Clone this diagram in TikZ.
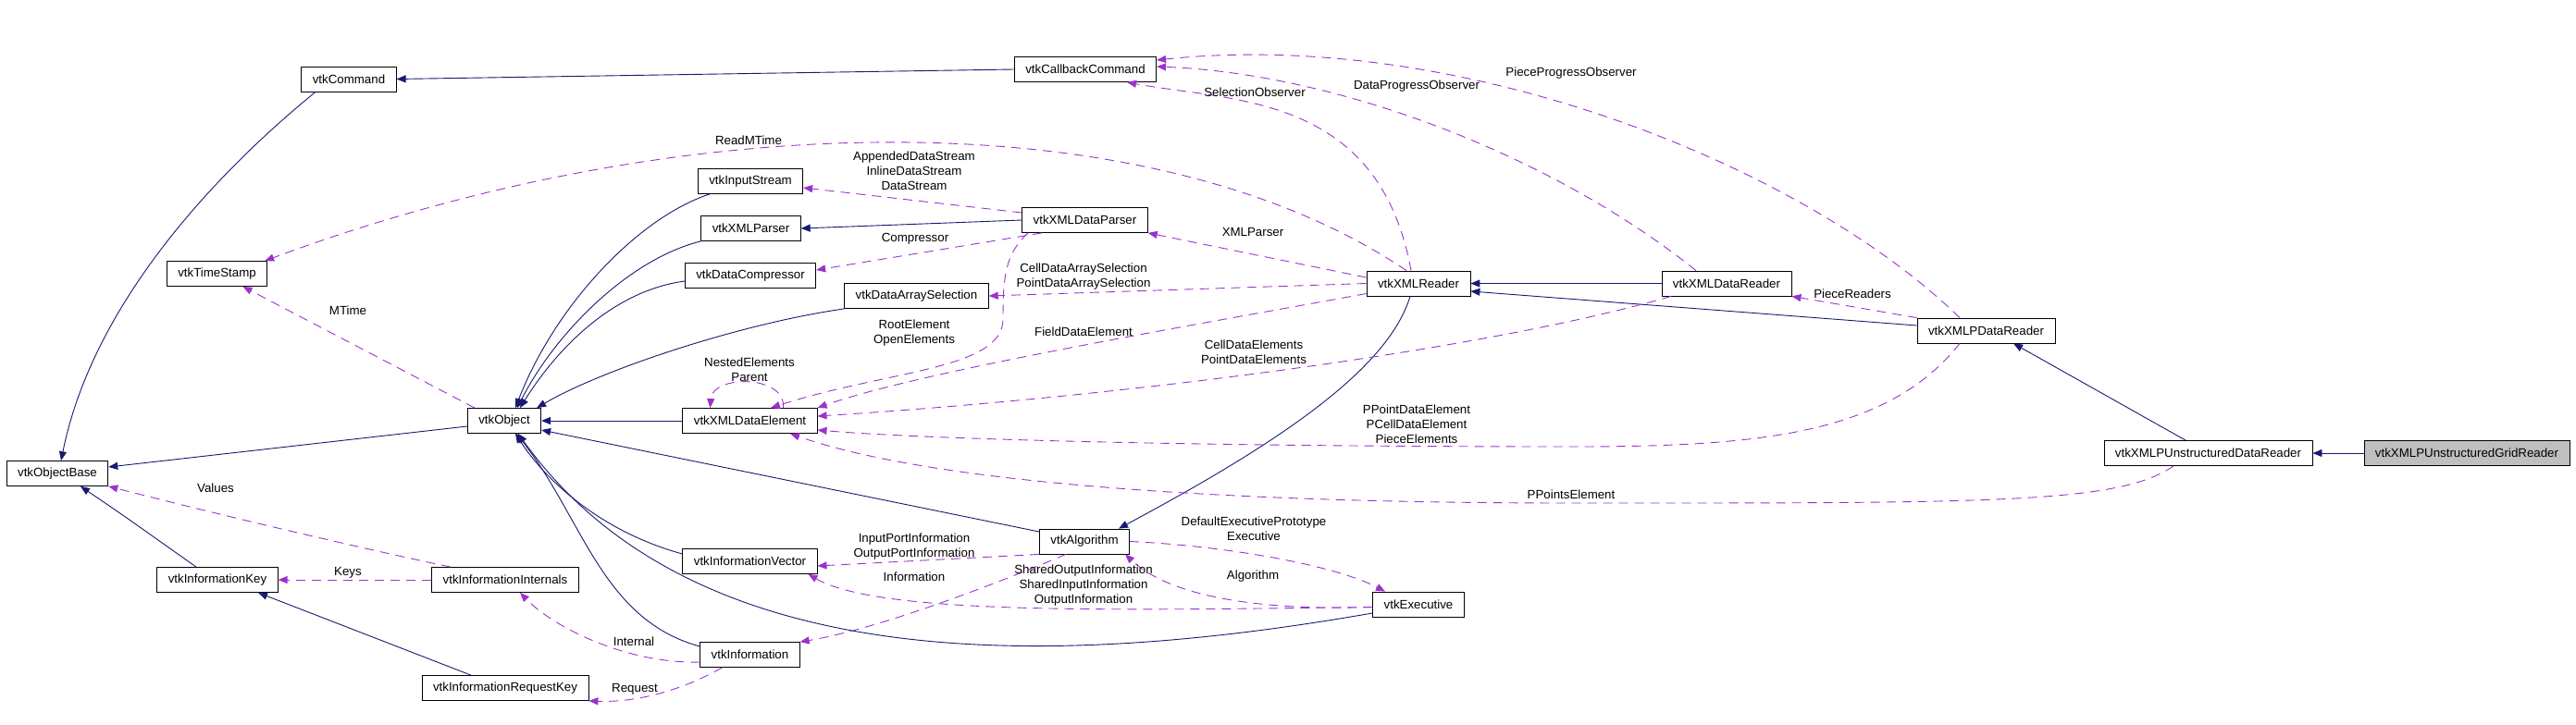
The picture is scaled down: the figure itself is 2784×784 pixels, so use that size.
\documentclass[tikz,border=0pt]{standalone}
\usepackage{fontspec}
\setmainfont{Liberation Sans}
\usetikzlibrary{arrows.meta}

\definecolor{inhblue}{HTML}{191970}
\definecolor{usepurple}{HTML}{9A32CD}
\definecolor{selgray}{HTML}{BFBFBF}

\begin{document}
\begin{tikzpicture}[
x=1pt, y=-1pt,
cls/.style={draw=black, fill=white, line width=0.8pt, font=\fontsize{13.3}{16}\selectfont, inner xsep=12pt, inner ysep=0pt, minimum height=27pt},
inh/.style={-{Triangle[length=10pt,width=8pt]}, draw=inhblue, line width=0.9pt},
member/.style={-{Triangle[length=10pt,width=8pt]}, draw=usepurple, dash pattern=on 10pt off 7pt, line width=0.9pt},
edgelabel/.style={font=\fontsize{13.3}{16}\selectfont, align=center, inner sep=0pt} ]

\useasboundingbox (0,0) rectangle (2784,784);

\node[cls](cmd) at (377,85.5) {vtkCommand};

\node[cls](cbcmd) at (1173,75) {vtkCallbackCommand};

\node[cls](tstamp) at (234.5,296) {vtkTimeStamp};

\node[cls](objbase) at (62,512) {vtkObjectBase};

\node[cls](obj) at (545,455) {vtkObject};

\node[cls](infokey) at (235,627) {vtkInformationKey};

\node[cls](infoint) at (546,627) {vtkInformationInternals};

\node[cls](reqkey) at (546,744) {vtkInformationRequestKey};

\node[cls](instream) at (811,196) {vtkInputStream};

\node[cls](xmlparser) at (811.5,247) {vtkXMLParser};

\node[cls](compressor) at (811,298) {vtkDataCompressor};

\node[cls](dataparser) at (1172.5,238) {vtkXMLDataParser};

\node[cls](arraysel) at (990.5,320) {vtkDataArraySelection};

\node[cls](dataelem) at (810.5,455) {vtkXMLDataElement};

\node[cls](infovec) at (810.5,607) {vtkInformationVector};

\node[cls](info) at (810.5,708) {vtkInformation};

\node[cls](algo) at (1172,585.5) {vtkAlgorithm};

\node[cls](exec) at (1533,653.5) {vtkExecutive};

\node[cls](reader) at (1533,306.5) {vtkXMLReader};

\node[cls](datareader) at (1866,306.5) {vtkXMLDataReader};

\node[cls](preader) at (2146.5,357.5) {vtkXMLPDataReader};

\node[cls](pudreader) at (2386.5,490) {vtkXMLPUnstructuredDataReader};

\node[cls, fill=selgray](pugreader) at (2666,490) {vtkXMLPUnstructuredGridReader};

% base classes
\draw[inh] (cbcmd.west) -- (cmd.east);

\draw[inh] ([xshift=-36pt]cmd.south) .. controls (230,190) and (100,330) .. ([xshift=4pt]objbase.north);

\draw[inh] ([yshift=-6pt]obj.west) -- ([yshift=7pt]objbase.east);

\draw[inh] ([xshift=-23pt]infokey.north) .. controls (130,555) .. ([xshift=25pt]objbase.south);

\draw[inh] ([xshift=-37pt]reqkey.north) -- ([xshift=44pt]infokey.south);

\draw[inh] ([xshift=-44pt]instream.south) .. controls (690,235) and (600,330) .. ([xshift=12pt]obj.north);

\draw[inh] (xmlparser.south west) .. controls (680,280) and (600,360) .. ([xshift=14pt]obj.north);

\draw[inh] ([yshift=-6pt]compressor.west) .. controls (660,315) and (600,380) .. ([xshift=17pt]obj.north);

\draw[inh] (arraysel.south west) .. controls (800,350) and (650,400) .. ([xshift=-5pt]obj.north east);

\draw[inh] (dataelem.west) -- (obj.east);

\draw[inh] ([yshift=10.5pt]algo.west) -- ([yshift=-10pt]obj.east);

\draw[inh] ([yshift=8pt]infovec.west) .. controls (650,575) and (590,520) .. ([xshift=12pt]obj.south);

\draw[inh] ([yshift=9pt]info.west) .. controls (650,670) and (630,560) .. ([xshift=13pt]obj.south);

\draw[inh] ([yshift=-9.5pt]exec.west) .. controls (1100,730) and (740,720) .. ([xshift=15pt]obj.south);

\draw[inh] ([xshift=-9pt]reader.south) .. controls (1500,400) and (1380,480) .. ([xshift=37pt]algo.north);

\draw[inh] (dataparser.west) -- (xmlparser.east);

\draw[inh] (datareader.west) -- (reader.east);

\draw[inh] ([yshift=5.5pt]preader.west) -- ([yshift=-8.5pt]reader.east);

\draw[inh] ([xshift=-24.5pt]pudreader.north) -- ([xshift=29.5pt]preader.south);

\draw[inh] (pugreader.west) -- (pudreader.east);

% members
\draw[member] ([xshift=-13pt]reader.north) .. controls (1250,110) and (750,110) .. ([xshift=-3pt]tstamp.north east);

\draw[member] ([xshift=-8pt]reader.north) .. controls (1490,100) and (1330,110) .. ([xshift=45pt]cbcmd.south);

\draw[member] ([xshift=-33pt]datareader.north) .. controls (1680,170) and (1450,80) .. ([yshift=3pt]cbcmd.east);

\draw[member] ([xshift=-28.5pt]preader.north) .. controls (1950,180) and (1580,30) .. ([yshift=10pt]cbcmd.east);

\draw[member] ([yshift=8pt]dataparser.west) -- ([yshift=-7pt]instream.east);

\draw[member] ([xshift=-46.5pt]dataparser.south) -- ([yshift=6pt]compressor.east);

\draw[member] ([xshift=-61.5pt]dataparser.south) .. controls (1086,275) and (1084,300) .. (1084,345) .. controls (1084,400) and (960,400) .. ([xshift=22.5pt]dataelem.north);

\draw[member] ([yshift=6.5pt]reader.west) -- (dataparser.south east);

\draw[member] (reader.west) -- (arraysel.east);

\draw[member] ([yshift=-11pt]reader.west) .. controls (1300,350) and (1000,400) .. ([yshift=14pt]dataelem.east);

\draw[member] ([xshift=36pt]dataelem.north) .. controls (850,405) and (770,405) .. ([xshift=-43pt]dataelem.north);

\draw[member] ([xshift=-60pt]datareader.south) .. controls (1600,380) and (1200,430) .. ([yshift=5pt]dataelem.east);

\draw[member] ([xshift=-28.5pt]preader.south) .. controls (2040,470) and (1900,483) .. (1700,483) .. controls (1300,483) and (1000,475) .. ([yshift=-10pt]dataelem.east);

\draw[member] ([xshift=-37.5pt]pudreader.south) .. controls (2290,545) and (2150,544) .. (1700,544) .. controls (1300,544) and (1000,520) .. ([xshift=43.5pt]dataelem.south);

\draw[member] (algo.east) .. controls (1320,590) and (1440,610) .. ([xshift=-36pt]exec.north);

\draw[member] ([yshift=-3pt]exec.west) .. controls (1380,660) and (1270,650) .. ([xshift=44pt]algo.south);

\draw[member] ([yshift=-3pt]exec.west) .. controls (1200,660) and (950,665) .. ([xshift=-10pt]infovec.south east);

\draw[member] (algo.south west) -- ([yshift=-5pt]infovec.east);

\draw[member] ([xshift=-20pt]algo.south) .. controls (1080,630) and (950,680) .. (info.north east);

\draw[member] ([xshift=-59pt]infoint.north) .. controls (400,595) and (250,560) .. (objbase.south east);

\draw[member] (infoint.west) -- (infokey.east);

\draw[member] ([yshift=-8pt]info.west) .. controls (680,718) and (600,680) .. ([xshift=16pt]infoint.south);

\draw[member] ([xshift=-30pt]info.south) .. controls (740,745) and (690,760) .. (reqkey.south east);

\draw[member] ([xshift=-32pt]obj.north) -- ([xshift=28pt]tstamp.south);

\draw[member] (preader.north west) -- (datareader.south east);

% labels
\node[edgelabel](lreadmtime) at (809,152) {ReadMTime};

\node[edgelabel](lstream) at (988,185) {AppendedDataStream\\InlineDataStream\\DataStream};

\node[edgelabel](lselobs) at (1356,100) {SelectionObserver};

\node[edgelabel](ldataobs) at (1531,93) {DataProgressObserver};

\node[edgelabel](lpieceobs) at (1698,79) {PieceProgressObserver};

\node[edgelabel](lxmlparser) at (1354,251) {XMLParser};

\node[edgelabel](lcompressor) at (989,258) {Compressor};

\node[edgelabel](lselection) at (1171,299.5) {CellDataArraySelection\\PointDataArraySelection};

\node[edgelabel](lroot) at (988,360) {RootElement\\OpenElements};

\node[edgelabel](lfield) at (1171,359) {FieldDataElement};

\node[edgelabel](lnested) at (810,400) {NestedElements\\Parent};

\node[edgelabel](lcelldata) at (1355,381) {CellDataElements\\PointDataElements};

\node[edgelabel](lpiecereaders) at (2002,318) {PieceReaders};

\node[edgelabel](lppoint) at (1531,459) {PPointDataElement\\PCellDataElement\\PieceElements};

\node[edgelabel](lppoints) at (1698,535) {PPointsElement};

\node[edgelabel](lexecutive) at (1355,572) {DefaultExecutivePrototype\\Executive};

\node[edgelabel](lalgorithm) at (1354,623) {Algorithm};

\node[edgelabel](lportinfo) at (988,591) {InputPortInformation\\OutputPortInformation};

\node[edgelabel](linformation) at (988,624) {Information};

\node[edgelabel](lshared) at (1171,633) {SharedOutputInformation\\SharedInputInformation\\OutputInformation};

\node[edgelabel](lmtime) at (376,336) {MTime};

\node[edgelabel](lvalues) at (233,528) {Values};

\node[edgelabel](lkeys) at (376,619) {Keys};

\node[edgelabel](linternal) at (685,694) {Internal};

\node[edgelabel](lrequest) at (686,745) {Request};

\end{tikzpicture}
\end{document}
